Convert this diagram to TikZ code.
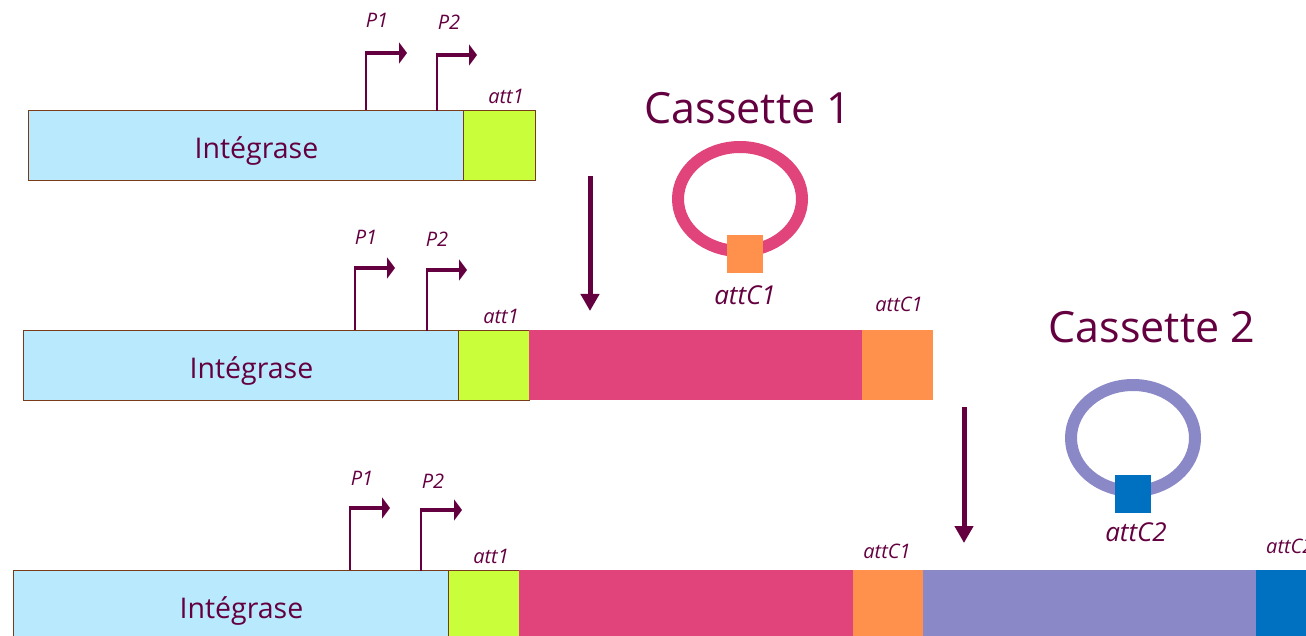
\documentclass[tikz,border=0pt]{standalone}
\usepackage{fontspec}
\setmainfont{Open Sans}
\usetikzlibrary{arrows.meta}
\definecolor{ink}{HTML}{640040}
\definecolor{edge}{HTML}{7A3B1A}
\definecolor{intfill}{HTML}{B8E9FC}
\definecolor{attfill}{HTML}{C8FF3A}
\definecolor{cas1}{HTML}{E1437B}
\definecolor{att1c}{HTML}{FF914D}
\definecolor{cas2}{HTML}{8A88C7}
\definecolor{att2c}{HTML}{0070C0}
\tikzset{
  seg/.style={anchor=north west, inner sep=0pt, outer sep=0pt, minimum height=70pt},
  gene/.style={seg, draw=edge, line width=0.9pt},
  genelabel/.style={text=ink, font=\fontsize{28.5}{30}\selectfont},
  small/.style={text=ink, font=\fontsize{20}{22}\selectfont\itshape, inner sep=0pt},
  mid/.style={text=ink, font=\fontsize{26}{28}\selectfont\itshape, inner sep=0pt},
  big/.style={text=ink, font=\fontsize{43}{46}\selectfont, inner sep=0pt},
  stem/.style={draw=ink, line width=2pt},
  prom/.style={draw=ink, line width=3.2pt, -{Triangle[length=8pt,width=21pt]}},
  flow/.style={draw=ink, line width=5pt, -{Triangle[length=17pt,width=18pt]}},
  ring/.style={line width=12pt},
}
\begin{document}
\begin{tikzpicture}[x=1pt,y=-1pt]
\useasboundingbox (0,0) rectangle (1306,636);

% ---- row 1 ----
\node[gene, fill=intfill, minimum width=435pt] (intA) at (28,110) {};
\node[genelabel] at ([shift={(11,6)}]intA.center) {Intégrase};
\node[gene, fill=attfill, minimum width=72pt] (attA) at (463,110) {};
\node[small] at (506,96) {att1};
\coordinate (pA1) at (366,110);
\coordinate (pA2) at (437,111);
\draw[stem] (pA1) -- ++(0,-57) coordinate (kA1);
\draw[prom] ([xshift=-1pt]kA1) -- ++(42,0);
\draw[stem] (pA2) -- ++(0,-56) coordinate (kA2);
\draw[prom] ([xshift=-1pt]kA2) -- ++(41,0);
\node[small] at (377,20) {P1};
\node[small] at (449,22) {P2};

% ---- row 2 ----
\node[gene, fill=intfill, minimum width=435pt] (intB) at (23,330) {};
\node[genelabel] at ([shift={(11,6)}]intB.center) {Intégrase};
\node[gene, fill=attfill, minimum width=71pt] (attB) at (458,330) {};
\node[seg, fill=cas1, minimum width=333pt] (cB) at (529,330) {};
\node[seg, fill=att1c, minimum width=71pt] (aB) at (862,330) {};
\node[small] at (501,316) {att1};
\node[small] at (899,304) {attC1};
\coordinate (pB1) at (355,330);
\coordinate (pB2) at (427,331);
\draw[stem] (pB1) -- ++(0,-62) coordinate (kB1);
\draw[prom] ([xshift=-1pt]kB1) -- ++(41,0);
\draw[stem] (pB2) -- ++(0,-61) coordinate (kB2);
\draw[prom] ([xshift=-1pt]kB2) -- ++(41,0);
\node[small] at (366,237) {P1};
\node[small] at (437,239) {P2};

% ---- row 3 ----
\node[gene, fill=intfill, minimum width=435pt] (intC) at (13,570) {};
\node[genelabel] at ([shift={(11,6)}]intC.center) {Intégrase};
\node[gene, fill=attfill, minimum width=71pt] (attC) at (448,570) {};
\node[seg, fill=cas1, minimum width=334pt] (cC) at (519,570) {};
\node[seg, fill=att1c, minimum width=70pt] (aC) at (853,570) {};
\node[seg, fill=cas2, minimum width=333pt] (dC) at (923,570) {};
\node[seg, fill=att2c, minimum width=60pt] (eC) at (1256,570) {};
\node[small] at (491,556) {att1};
\node[small] at (887,551) {attC1};
\node[small, anchor=west] at (1266,546) {attC2};
\coordinate (pC1) at (350,570);
\coordinate (pC2) at (421,571);
\draw[stem] (pC1) -- ++(0,-62) coordinate (kC1);
\draw[prom] ([xshift=-1pt]kC1) -- ++(41,0);
\draw[stem] (pC2) -- ++(0,-61) coordinate (kC2);
\draw[prom] ([xshift=-1pt]kC2) -- ++(42,0);
\node[small] at (362,478) {P1};
\node[small] at (433,481) {P2};

% ---- cassette 1 ----
\node[big] (tc1) at (748,108) {Cassette 1};
\coordinate (ring1) at (740,199);
\draw[ring, cas1] (ring1) ellipse [x radius=62, y radius=52];
\node[seg, fill=att1c, minimum width=36pt, minimum height=38pt] (sq1) at (727,235) {};
\node[mid] at (745,295) {attC1};

% ---- cassette 2 ----
\node[big] (tc2) at (1152,327) {Cassette 2};
\coordinate (ring2) at (1133,438);
\draw[ring, cas2] (ring2) ellipse [x radius=62, y radius=53];
\node[seg, fill=att2c, minimum width=36pt, minimum height=38pt] (sq2) at (1115,475) {};
\node[mid] at (1136,532) {attC2};

% ---- integration steps ----
\coordinate (s1a) at (590,176);
\coordinate (s1b) at (590,311);
\coordinate (s2a) at (964,407);
\coordinate (s2b) at (964,543);
\draw[flow] (s1a) -- (s1b);
\draw[flow] (s2a) -- (s2b);
\end{tikzpicture}
\end{document}
